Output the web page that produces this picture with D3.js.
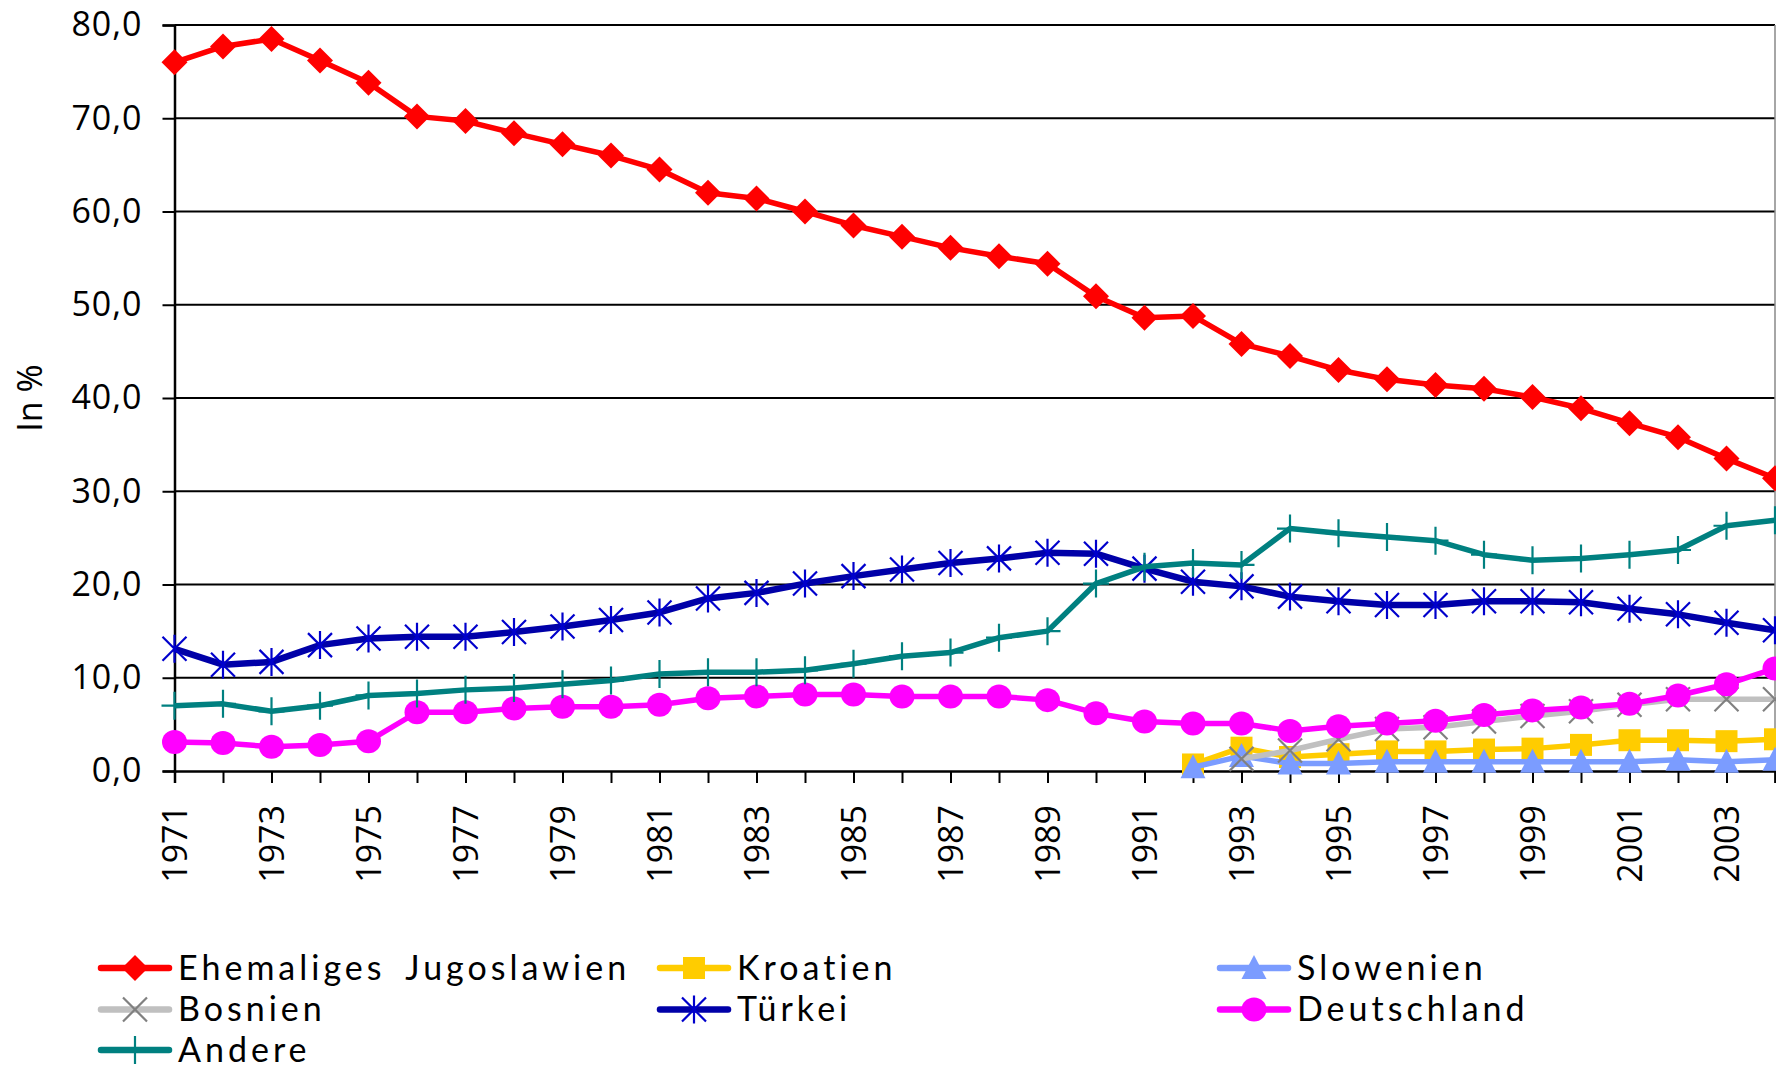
<!DOCTYPE html>
<html><head><meta charset="utf-8">
<script src="https://cdn.jsdelivr.net/npm/d3@7"></script>
<style>
html,body{margin:0;padding:0;background:#fff;}
svg{display:block;}
text{fill:#000;}
</style></head>
<body>
<svg id="chart" width="1776" height="1068"></svg>
<script>
const years = d3.range(1971, 2005);
const yTicks = [0, 10, 20, 30, 40, 50, 60, 70, 80];
const xTickLabels = [1971,1973,1975,1977,1979,1981,1983,1985,1987,1989,1991,1993,1995,1997,1999,2001,2003];
const N = null;

const jugoslawien = [76.0,77.7,78.5,76.2,73.8,70.2,69.7,68.4,67.2,66.0,64.5,62.0,61.4,60.0,58.5,57.3,56.1,55.2,54.4,50.9,48.6,48.8,45.8,44.5,43.0,42.0,41.4,41.0,40.1,38.9,37.3,35.8,33.5,31.4];
const kroatien    = [N,N,N,N,N,N,N,N,N,N,N,N,N,N,N,N,N,N,N,N,N,0.7,2.5,1.5,1.8,2.1,2.1,2.3,2.4,2.8,3.3,3.3,3.2,3.4];
const slowenien   = [N,N,N,N,N,N,N,N,N,N,N,N,N,N,N,N,N,N,N,N,N,0.4,1.6,0.8,0.8,1.0,1.0,1.0,1.0,1.0,1.0,1.2,1.0,1.2];
const bosnien     = [N,N,N,N,N,N,N,N,N,N,N,N,N,N,N,N,N,N,N,N,N,N,1.3,2.2,3.4,4.5,4.7,5.3,5.9,6.4,7.1,7.7,7.7,7.7];
const tuerkei     = [13.1,11.4,11.7,13.5,14.2,14.4,14.4,14.9,15.5,16.2,17.0,18.5,19.1,20.1,20.9,21.6,22.3,22.8,23.4,23.3,21.7,20.3,19.8,18.7,18.2,17.8,17.8,18.2,18.2,18.1,17.4,16.8,15.9,15.1];
const deutschland = [3.1,3.0,2.6,2.8,3.2,6.3,6.3,6.7,6.9,6.9,7.1,7.8,8.0,8.2,8.2,8.0,8.0,8.0,7.6,6.2,5.3,5.1,5.1,4.3,4.8,5.1,5.4,6.0,6.5,6.8,7.2,8.1,9.3,11.0];
const andere      = [7.0,7.2,6.4,7.0,8.1,8.3,8.7,8.9,9.3,9.7,10.4,10.6,10.6,10.8,11.5,12.3,12.7,14.3,15.0,20.1,21.9,22.3,22.1,26.0,25.5,25.1,24.7,23.2,22.6,22.8,23.2,23.7,26.3,26.9];

const seriesNames = ["Ehemaliges Jugoslawien","Kroatien","Slowenien","Bosnien","Türkei","Deutschland","Andere"];

const series = [
  {name: seriesNames[0], values: jugoslawien, color:"#FF0000", mcolor:"#FF0000", marker:"diamond", width:5.5},
  {name: seriesNames[1], values: kroatien,    color:"#FFCC00", mcolor:"#FFCC00", marker:"square",  width:5.5},
  {name: seriesNames[2], values: slowenien,   color:"#7B9CFF", mcolor:"#7B9CFF", marker:"triangle",width:5.5},
  {name: seriesNames[3], values: bosnien,     color:"#C0C0C0", mcolor:"#808080", marker:"x",       width:5.5},
  {name: seriesNames[4], values: tuerkei,     color:"#0000A8", mcolor:"#0000CC", marker:"star",    width:6.5},
  {name: seriesNames[5], values: deutschland, color:"#FF00FF", mcolor:"#FF00FF", marker:"circle",  width:5.5},
  {name: seriesNames[6], values: andere,      color:"#008080", mcolor:"#008080", marker:"plus",    width:5.5}
];

const AXIS_FONT = '"Open Sans",Lato,sans-serif';
const LEGEND_FONT = 'Lato,"Open Sans",sans-serif';

const svg = d3.select("#chart");
svg.append("rect").attr("width",1776).attr("height",1068).attr("fill","#fff");

const x = d3.scaleLinear().domain([1971, 2004]).range([174.5, 1775]);
const y = d3.scaleLinear().domain([0, 80]).range([771, 25]);
const fmt = v => d3.format(".1f")(v).replace(".", ",");

// gridlines
svg.append("g").selectAll("line").data(yTicks.filter(d => d > 0)).join("line")
  .attr("x1", x(1971)).attr("x2", x(2004))
  .attr("y1", d => y(d)).attr("y2", d => y(d))
  .attr("stroke", "#000").attr("stroke-width", 2);

// right border
svg.append("line").attr("x1", x(2004)).attr("x2", x(2004)).attr("y1", y(80)).attr("y2", y(0))
  .attr("stroke", "#888").attr("stroke-width", 1.5);

// y axis
const yAxis = d3.axisLeft(y).tickValues(yTicks).tickSize(12).tickPadding(20).tickFormat(fmt);
const gy = svg.append("g").attr("transform", `translate(${x(1971)},0)`).call(yAxis);
gy.select(".domain").attr("stroke", "#000").attr("stroke-width", 2.5);
gy.selectAll(".tick line").attr("stroke", "#000").attr("stroke-width", 2);
gy.selectAll(".tick text").style("font-size", "34px").style("font-family", AXIS_FONT)
  .attr("letter-spacing", 1).attr("fill", "#000");

// x axis
const xAxis = d3.axisBottom(x).tickValues(years).tickSize(12).tickFormat(d => xTickLabels.includes(d) ? String(d) : "");
const gx = svg.append("g").attr("transform", `translate(0,${y(0)})`).call(xAxis);
gx.select(".domain").attr("stroke", "#000").attr("stroke-width", 2.5);
gx.selectAll(".tick line").attr("stroke", "#000").attr("stroke-width", 2);
gx.selectAll(".tick text")
  .style("font-size", "34px").style("font-family", AXIS_FONT).attr("fill", "#000")
  .attr("text-anchor", "end").attr("transform", "rotate(-90)")
  .attr("x", -34).attr("y", 0).attr("dy", "0.36em");

// y title
svg.append("text").attr("transform", `translate(30,${(y(0)+y(80))/2}) rotate(-90)`)
  .style("font-family", AXIS_FONT).style("font-size", "34px")
  .attr("text-anchor", "middle").attr("dy", "0.36em").text("In %");

// marker path generator
function markerPath(type) {
  switch (type) {
    case "diamond": return "M0,-13L13,0L0,13L-13,0Z";
    case "square": return "M-11,-11H11V11H-11Z";
    case "triangle": return "M0,-13L12.5,11L-12.5,11Z";
    case "x": return "M-12,-12L12,12M-12,12L12,-12";
    case "star": return "M-12,-12L12,12M-12,12L12,-12M0,-14V14";
    case "plus": return "M0,-14V14M-13,0H13";
    default: return "";
  }
}
function drawMarker(g, type, color) {
  if (type === "circle") {
    g.append("ellipse").attr("rx", 12.5).attr("ry", 12).attr("fill", color);
  } else if (type === "x" || type === "star" || type === "plus") {
    g.append("path").attr("d", markerPath(type)).attr("fill", "none")
      .attr("stroke", color).attr("stroke-width", 2.2);
  } else {
    g.append("path").attr("d", markerPath(type)).attr("fill", color);
  }
}

const line = d3.line().defined(d => d.v !== null).x(d => x(d.year)).y(d => y(d.v));

series.forEach(s => {
  const pts = years.map((yr, i) => ({year: yr, v: s.values[i]}));
  const g = svg.append("g");
  g.append("path").datum(pts).attr("d", line).attr("fill", "none")
    .attr("stroke", s.color).attr("stroke-width", s.width).attr("stroke-linejoin", "round");
  pts.filter(d => d.v !== null).forEach(d => {
    const mg = g.append("g").attr("transform", `translate(${x(d.year)},${y(d.v)})`);
    drawMarker(mg, s.marker, s.mcolor);
  });
});

// legend
const legendCols = [101, 660, 1220];
const legendRows = [968, 1009.5, 1050];
series.forEach((s, i) => {
  const col = i % 3, row = Math.floor(i / 3);
  const lx = legendCols[col], ly = legendRows[row];
  const g = svg.append("g").attr("transform", `translate(${lx},${ly})`);
  g.append("line").attr("x1", 0).attr("x2", 68).attr("y1", 0).attr("y2", 0)
    .attr("stroke", s.color).attr("stroke-width", 6.5).attr("stroke-linecap", "round");
  const mg = g.append("g").attr("transform", "translate(34,0)");
  drawMarker(mg, s.marker, s.mcolor);
  g.append("text").attr("x", 77).attr("dy", "0.35em")
    .style("font-size", "34px").style("font-family", LEGEND_FONT)
    .attr("letter-spacing", 4).attr("word-spacing", 8).text(s.name);
});
</script>
</body></html>
